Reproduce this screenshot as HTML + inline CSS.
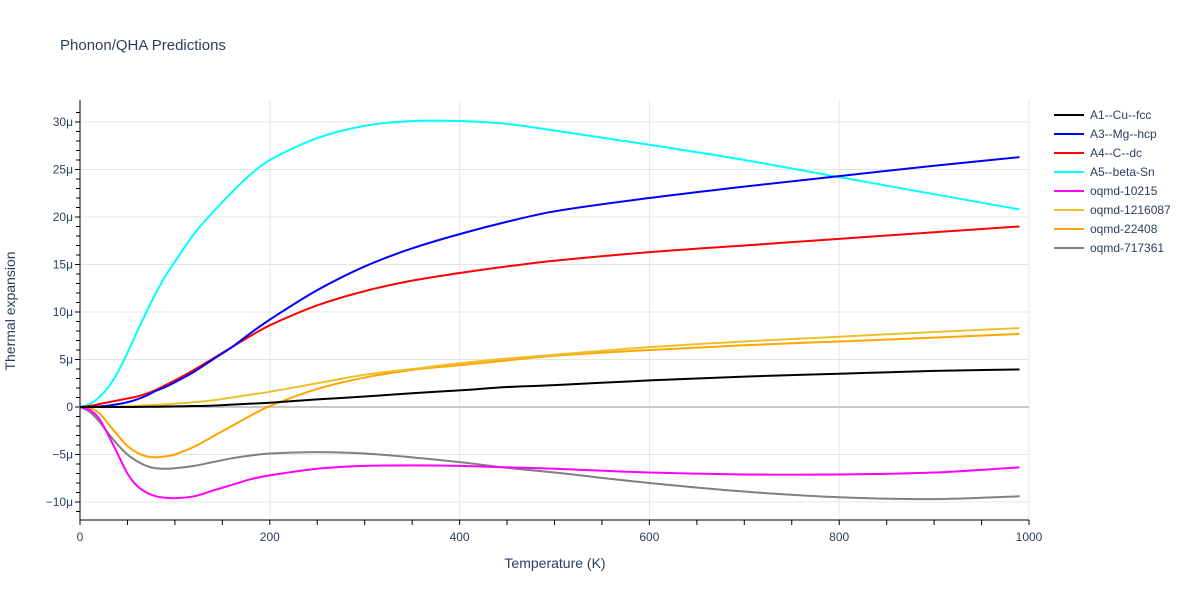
<!DOCTYPE html>
<html><head><meta charset="utf-8"><style>
body{margin:0;background:#fff;font-family:"Liberation Sans",Arial,sans-serif}
svg text{font-family:"Liberation Sans",Arial,sans-serif;fill:#2a3f5f}
</style></head><body>
<svg id="chart" width="1200" height="600" xmlns="http://www.w3.org/2000/svg">
<text x="60" y="50" font-size="15">Phonon/QHA Predictions</text>
<g id="grid"></g>
<g id="axes"></g>
<g id="series"></g>
<g id="legend"></g>
<text x="555" y="568" font-size="14" text-anchor="middle">Temperature (K)</text>
<text transform="translate(15,311) rotate(-90)" font-size="14" text-anchor="middle">Thermal expansion</text>
</svg>
<script>
const temps=[0,10,20,30,40,50,60,70,80,90,100,120,140,160,180,200,250,300,350,400,450,500,600,700,800,900,990];
const seriesNames=["A1--Cu--fcc","A3--Mg--hcp","A4--C--dc","A5--beta-Sn","oqmd-10215","oqmd-1216087","oqmd-22408","oqmd-717361"];
const seriesColors=["#000000","#0000ff","#ff0000","#00ffff","#ff00ff","#ecc02c","#ffa500","#808080"];
const cu=[0,0,0,0,0,0,0.01,0.02,0.03,0.05,0.07,0.1,0.15,0.25,0.35,0.45,0.8,1.1,1.45,1.75,2.1,2.3,2.8,3.2,3.5,3.8,3.95];
const mg=[0,0,0.05,0.15,0.3,0.5,0.8,1.2,1.7,2.1,2.6,3.7,5.0,6.3,7.8,9.2,12.3,14.8,16.7,18.2,19.5,20.6,22,23.2,24.3,25.4,26.3];
const c=[0,0.1,0.3,0.5,0.7,0.9,1.1,1.4,1.8,2.3,2.8,3.9,5.1,6.3,7.5,8.6,10.7,12.2,13.3,14.1,14.8,15.4,16.3,17.0,17.7,18.4,19.0];
const sn=[0,0.3,1.0,2.1,3.7,5.7,7.9,10.0,12.0,13.8,15.3,18.2,20.5,22.6,24.5,26.0,28.3,29.6,30.1,30.1,29.8,29.1,27.6,26.0,24.2,22.4,20.8];
const o10215=[0,-0.3,-1.2,-3,-5,-7,-8.3,-9.0,-9.4,-9.55,-9.6,-9.4,-8.8,-8.2,-7.6,-7.2,-6.5,-6.2,-6.15,-6.2,-6.35,-6.5,-6.9,-7.1,-7.1,-6.9,-6.35];
const o1216087=[0,0,0,0.02,0.05,0.08,0.12,0.17,0.22,0.28,0.35,0.5,0.7,1.0,1.3,1.6,2.5,3.4,4.0,4.6,5.1,5.5,6.3,6.9,7.4,7.9,8.3];
const o22408=[0,-0.1,-0.6,-1.8,-3.0,-4.1,-4.8,-5.2,-5.3,-5.2,-5.0,-4.2,-3.1,-2.0,-0.9,0.1,1.9,3.1,3.9,4.4,4.9,5.4,6.0,6.5,6.9,7.3,7.7];
const o717361=[0,-0.5,-1.5,-2.8,-4.0,-5.0,-5.7,-6.2,-6.45,-6.5,-6.45,-6.2,-5.8,-5.4,-5.1,-4.9,-4.75,-4.9,-5.3,-5.8,-6.4,-6.9,-8.0,-8.9,-9.5,-9.7,-9.4];
const seriesData=[cu,mg,c,sn,o10215,o1216087,o22408,o717361];
const xTicks=[0,200,400,600,800,1000];
const yTicks=[-10,-5,0,5,10,15,20,25,30];
const yLabels=["−10μ","−5μ","0","5μ","10μ","15μ","20μ","25μ","30μ"];

const NS="http://www.w3.org/2000/svg";
const X0=80,X1=1029,Y0=407,PY=9.5;
const xs=t=>X0+t*(X1-X0)/1000;
const ys=v=>Y0-v*PY;
function mk(tag,attrs,parent){const e=document.createElementNS(NS,tag);for(const k in attrs)e.setAttribute(k,attrs[k]);parent.appendChild(e);return e;}
const grid=document.getElementById('grid'),axes=document.getElementById('axes'),ser=document.getElementById('series'),leg=document.getElementById('legend');
xTicks.forEach(t=>{if(t===0)return;const l=mk('line',{x1:xs(t),x2:xs(t),y1:100,y2:520,stroke:'#e5e5e5','stroke-width':1},grid);

});
yTicks.forEach(v=>{const l=mk('line',{x1:X0,x2:X1,y1:ys(v),y2:ys(v),stroke:v===0?'#c8c8c8':'#e5e5e5','stroke-width':v===0?2:1},grid);

});
mk('line',{x1:X0,x2:X0,y1:100,y2:520,stroke:'#000','stroke-width':1},axes);
mk('line',{x1:X0,x2:X1,y1:520,y2:520,stroke:'#000','stroke-width':1},axes);
for(let v=-11;v<=31;v++){const major=v%5===0;mk('line',{x1:X0-(major?5:4),x2:X0,y1:ys(v),y2:ys(v),stroke:'#000','stroke-width':1},axes);}
for(let t=0;t<=1000;t+=50){mk('line',{x1:xs(t),x2:xs(t),y1:520,y2:525,stroke:'#000','stroke-width':1},axes);}
xTicks.forEach(t=>{const e=mk('text',{x:xs(t),y:541,'font-size':12,'text-anchor':'middle'},axes);e.textContent=t;

});
yTicks.forEach((v,i)=>{const e=mk('text',{x:73,y:ys(v)+4,'font-size':12,'text-anchor':'end'},axes);e.textContent=yLabels[i];

});
function pathFor(vals){const n=temps.length;const m=[];
for(let i=0;i<n;i++){const a=Math.max(0,i-1),b=Math.min(n-1,i+1);m.push((vals[b]-vals[a])/(temps[b]-temps[a]));}
let d=`M${xs(temps[0])},${ys(vals[0])}`;
for(let i=0;i<n-1;i++){const dt=temps[i+1]-temps[i];
const c1t=temps[i]+dt/3,c1v=vals[i]+m[i]*dt/3,c2t=temps[i+1]-dt/3,c2v=vals[i+1]-m[i+1]*dt/3;
d+=`C${xs(c1t)},${ys(c1v)} ${xs(c2t)},${ys(c2v)} ${xs(temps[i+1])},${ys(vals[i+1])}`;}return d;}
const order=[7,6,5,4,3,2,1,0];
order.forEach(i=>{const p=mk('path',{d:pathFor(seriesData[i]),fill:'none',stroke:seriesColors[i],'stroke-width':2},ser);

});
seriesNames.forEach((n,i)=>{const y=115+i*19;const g=mk('g',{},leg);


mk('line',{x1:1054,x2:1084,y1:y,y2:y,stroke:seriesColors[i],'stroke-width':2},g);
const t=mk('text',{x:1090,y:y+4,'font-size':12},g);t.textContent=n;});
</script>
</body></html>
